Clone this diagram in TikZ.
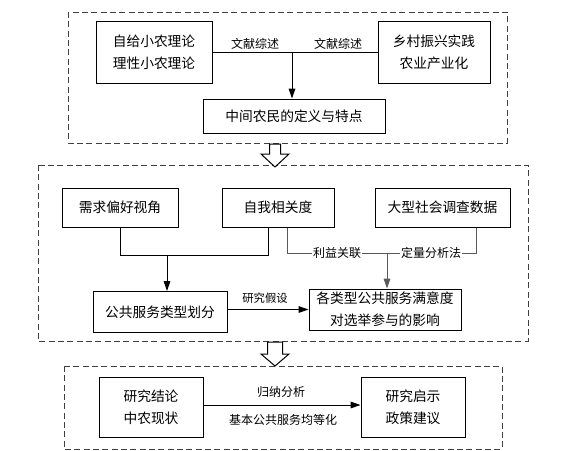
\documentclass[tikz,border=0pt]{standalone}
\usepackage{fontspec}
\newfontfamily\cjk{Noto Sans CJK SC}
\usetikzlibrary{arrows.meta}
\begin{document}
\begin{tikzpicture}[x=0.75pt,y=-0.75pt,
  box/.style={draw=black,line width=0.75pt,fill=white,font=\cjk\fontsize{10.3pt}{16.5pt}\selectfont,align=center,inner sep=0pt},
  lbl/.style={font=\cjk\fontsize{9pt}{11pt}\selectfont,inner sep=1pt},
  frame/.style={draw=black!75,line width=0.75pt,dash pattern=on 4.5pt off 2.5pt},
  conn/.style={line width=0.75pt,draw=black},
  gconn/.style={line width=0.75pt,draw=black!65},
  tip/.style={-{Triangle[length=7.5pt,width=5pt]}},
  hollow/.style={draw=black,fill=white,line width=0.75pt,line join=miter}]
\useasboundingbox (0,0) rectangle (570,450);
% frames
\draw[frame] (68,12) rectangle (507,143);
\draw[frame] (38,165) rectangle (528,341);
\draw[frame] (64,366) rectangle (502,449);
% top section
\node[box,minimum width=116*0.75pt,minimum height=62*0.75pt] (A) at (154,52) {自给小农理论\\理性小农理论};
\node[box,minimum width=112*0.75pt,minimum height=62*0.75pt] (B) at (434,52) {乡村振兴实践\\农业产业化};
\node[box,minimum width=182*0.75pt,minimum height=34*0.75pt] (C) at (294,116) {中间农民的定义与特点};
\coordinate (J) at (292,52);
\draw[conn] (A.east) -- (B.west);
\draw[conn,tip] (J) -- (J |- C.north);
\node[lbl] (L1) at (255,44) {文献综述};
\node[lbl] (L2) at (338,44) {文献综述};
% hollow arrow 1
\draw[hollow] (269.5,144) -- (280.5,144) -- (280.5,154) -- (289,154) -- (275,167) -- (261,154) -- (269.5,154) -- cycle;
% middle section
\node[box,minimum width=116*0.75pt,minimum height=39*0.75pt] (D) at (120,207.5) {需求偏好视角};
\node[box,minimum width=112*0.75pt,minimum height=39*0.75pt] (E) at (278,207.5) {自我相关度};
\node[box,minimum width=135*0.75pt,minimum height=39*0.75pt] (F) at (442.5,207.5) {大型社会调查数据};
\node[box,minimum width=134*0.75pt,minimum height=41*0.75pt] (G) at (160,312) {公共服务类型划分};
\node[box,minimum width=152*0.75pt,minimum height=41*0.75pt] (H) at (385,309.5) {各类型公共服务满意度\\对选举参与的影响};
\coordinate (P1) at (120,255);
\coordinate (P2) at (268,255);
\coordinate (P3) at (167,255);
\draw[conn] (D.south -| P1) -- (P1) -- (P2) -- (E.south -| P2);
\draw[conn,tip] (P3) -- (G.north -| P3);
\coordinate (Q1) at (287,253);
\coordinate (Q2) at (476,253);
\coordinate (Q3) at (387,253);
\draw[gconn] (E.south -| Q1) -- (Q1) -- (Q2) -- (F.south -| Q2);
\draw[gconn,tip] (Q3) -- (H.north -| Q3);
\node[lbl,fill=white] (L3) at (337,253) {利益关联};
\node[lbl,fill=white] (L4) at (431,253) {定量分析法};
\draw[conn,tip] (G.east |- H.west) -- (H.west);
\node[lbl,font=\cjk\fontsize{8.5pt}{10pt}\selectfont] (L5) at (265,298) {研究假设};
% hollow arrow 2
\draw[hollow] (267.5,342) -- (282.5,342) -- (282.5,354) -- (289,354) -- (275,366) -- (261,354) -- (267.5,354) -- cycle;
% bottom section
\node[box,minimum width=104*0.75pt,minimum height=60*0.75pt] (I) at (151,407) {研究结论\\中农现状};
\node[box,minimum width=104*0.75pt,minimum height=60*0.75pt] (K) at (413,407) {研究启示\\政策建议};
\draw[conn,tip] (I.east |- 0,405) -- (K.west |- 0,405);
\node[lbl] (L6) at (281,392) {归纳分析};
\node[lbl] (L7) at (283,420) {基本公共服务均等化};
\end{tikzpicture}
\end{document}
